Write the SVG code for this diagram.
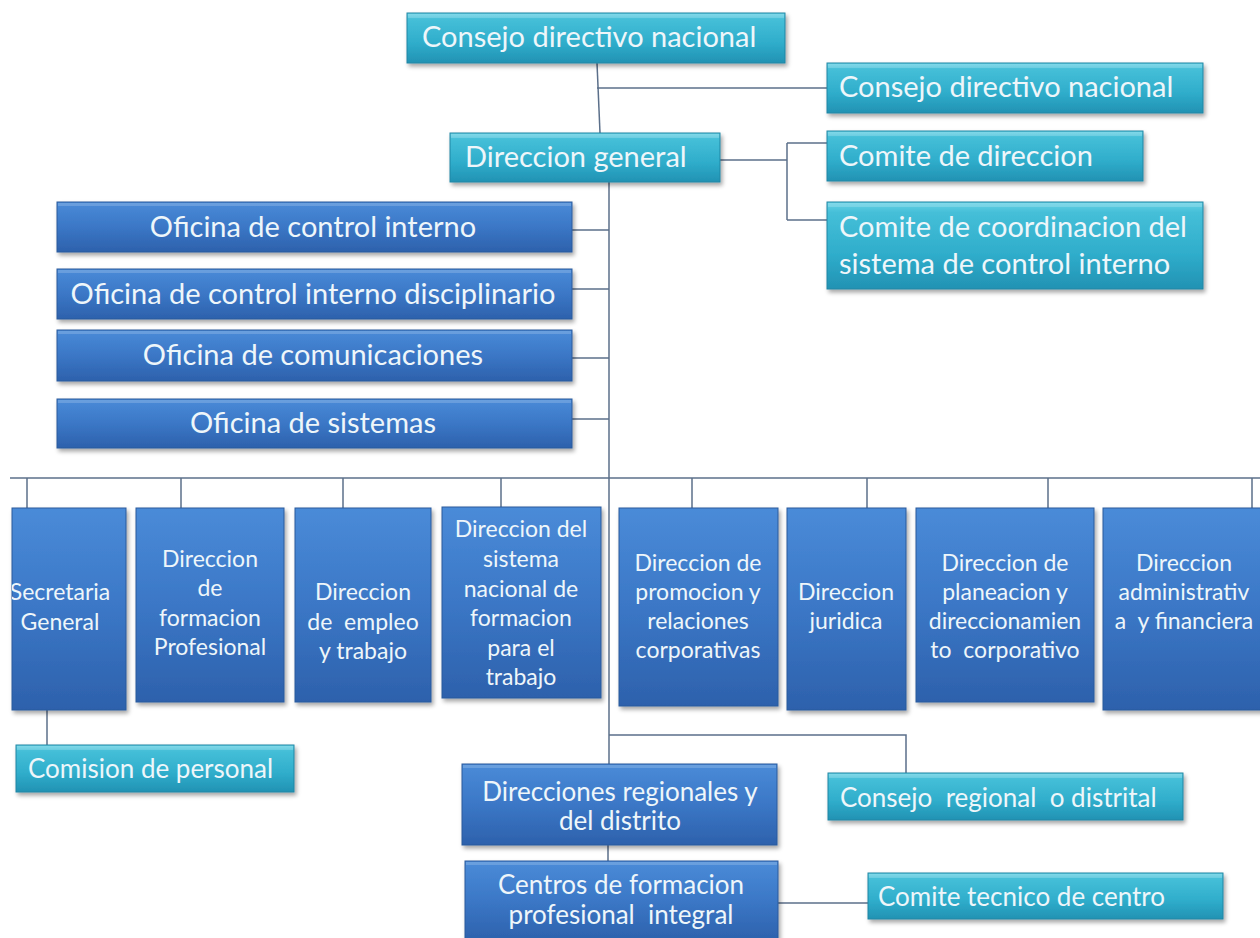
<svg xmlns="http://www.w3.org/2000/svg" width="1260" height="938" viewBox="0 0 1260 938">
<defs>
<linearGradient id="gBlue" x1="0" y1="0" x2="0" y2="1">
<stop offset="0" stop-color="#4a8bd8"/>
<stop offset="0.5" stop-color="#3b77c6"/>
<stop offset="1" stop-color="#2d61ac"/>
</linearGradient>
<linearGradient id="gCyan" x1="0" y1="0" x2="0" y2="1">
<stop offset="0" stop-color="#6ad3e6"/>
<stop offset="0.12" stop-color="#45bfd8"/>
<stop offset="0.6" stop-color="#2fadcb"/>
<stop offset="1" stop-color="#2292b3"/>
</linearGradient>
<filter id="sh" x="-5%" y="-5%" width="115%" height="125%">
<feDropShadow dx="2" dy="3" stdDeviation="2" flood-color="#000" flood-opacity="0.35"/>
</filter>
<clipPath id="clipSec"><rect x="12" y="500" width="120" height="220"/></clipPath>
</defs>
<style>
.blue{fill:url(#gBlue);stroke:#2a5a9c;stroke-width:1;filter:url(#sh)}
.cyan{fill:url(#gCyan);stroke:#1f86a4;stroke-width:1;filter:url(#sh)}
.hl{fill:#ffffff;opacity:0.18}
text{font-family:Lato,"Open Sans","Liberation Sans",sans-serif;fill:#eef6fa;white-space:pre}
.big{font-size:29px}
.mid{font-size:26px}
.col{font-size:23px;text-anchor:middle}
.c{text-anchor:middle}
.conn line,.conn polyline{stroke:#5b6f8a;stroke-width:1.5;fill:none}
</style>
<rect width="1260" height="938" fill="#ffffff"/>
<g class="conn" id="connectors">
<line x1="597" y1="63" x2="600" y2="133"/>
<line x1="597" y1="88" x2="827" y2="88"/>
<line x1="720" y1="160" x2="787" y2="160"/>
<line x1="787" y1="143" x2="787" y2="220"/>
<line x1="787" y1="143" x2="827" y2="143"/>
<line x1="787" y1="220" x2="827" y2="220"/>
<line x1="609" y1="182" x2="609" y2="764"/>
<line x1="572" y1="230" x2="609" y2="230"/>
<line x1="572" y1="289" x2="609" y2="289"/>
<line x1="572" y1="358" x2="609" y2="358"/>
<line x1="572" y1="419" x2="609" y2="419"/>
<line x1="10" y1="478" x2="1260" y2="478"/>
<line x1="27" y1="478" x2="27" y2="508"/>
<line x1="181" y1="478" x2="181" y2="508"/>
<line x1="343" y1="478" x2="343" y2="508"/>
<line x1="501" y1="478" x2="501" y2="508"/>
<line x1="692" y1="478" x2="692" y2="508"/>
<line x1="867" y1="478" x2="867" y2="508"/>
<line x1="1048" y1="478" x2="1048" y2="508"/>
<line x1="1252" y1="478" x2="1252" y2="508"/>
<line x1="47" y1="710" x2="47" y2="745"/>
<polyline points="609,735 906,735 906,773"/>
<line x1="608" y1="845" x2="608" y2="861"/>
<line x1="778" y1="903" x2="868" y2="903"/>
</g>

<g id="n_consejo_top"><rect class="cyan" x="407" y="13" width="378" height="50"/><rect class="hl" x="408" y="14" width="376" height="4"/><text class="big" x="422" y="47">Consejo directivo nacional</text></g>
<g id="n_consejo_right"><rect class="cyan" x="827" y="63" width="376" height="50"/><rect class="hl" x="828" y="64" width="374" height="4"/><text class="big" x="839" y="97">Consejo directivo nacional</text></g>
<g id="n_direccion_general"><rect class="cyan" x="450" y="133" width="270" height="49"/><rect class="hl" x="451" y="134" width="268" height="4"/><text class="big" x="465" y="167">Direccion general</text></g>
<g id="n_comite_direccion"><rect class="cyan" x="827" y="131" width="316" height="50"/><rect class="hl" x="828" y="132" width="314" height="4"/><text class="big" x="839" y="166">Comite de direccion</text></g>
<g id="n_comite_coord"><rect class="cyan" x="827" y="202" width="376" height="87"/><rect class="hl" x="828" y="203" width="374" height="4"/><text class="big" x="839" y="237">Comite de coordinacion del</text><text class="big" x="839" y="274">sistema de control interno</text></g>

<g id="n_of_control"><rect class="blue" x="57" y="202" width="515" height="50"/><rect class="hl" x="58" y="203" width="513" height="3"/><text class="big c" x="313" y="237">Oficina de control interno</text></g>
<g id="n_of_disc"><rect class="blue" x="57" y="269" width="515" height="50"/><rect class="hl" x="58" y="270" width="513" height="3"/><text class="big c" x="313" y="304">Oficina de control interno disciplinario</text></g>
<g id="n_of_com"><rect class="blue" x="57" y="330" width="515" height="51"/><rect class="hl" x="58" y="331" width="513" height="3"/><text class="big c" x="313" y="365">Oficina de comunicaciones</text></g>
<g id="n_of_sis"><rect class="blue" x="57" y="399" width="515" height="49"/><rect class="hl" x="58" y="400" width="513" height="3"/><text class="big c" x="313" y="433">Oficina de sistemas</text></g>

<g id="n_secretaria"><rect class="blue" x="12" y="508" width="114" height="202"/><g clip-path="url(#clipSec)"><text class="col" x="60" y="600">Secretaria</text><text class="col" x="60" y="630">General</text></g></g>
<g id="n_formacion"><rect class="blue" x="136" y="508" width="148" height="194"/><text class="col" x="210" y="567">Direccion</text><text class="col" x="210" y="596">de</text><text class="col" x="210" y="626">formacion</text><text class="col" x="210" y="655">Profesional</text></g>
<g id="n_empleo"><rect class="blue" x="295" y="508" width="136" height="194"/><text class="col" x="363" y="600">Direccion</text><text class="col" x="363" y="630">de  empleo</text><text class="col" x="363" y="659">y trabajo</text></g>
<g id="n_sistema"><rect class="blue" x="442" y="507" width="159" height="191"/><text class="col" x="521" y="537">Direccion del</text><text class="col" x="521" y="567">sistema</text><text class="col" x="521" y="597">nacional de</text><text class="col" x="521" y="626">formacion</text><text class="col" x="521" y="656">para el</text><text class="col" x="521" y="685">trabajo</text></g>
<g id="n_promocion"><rect class="blue" x="619" y="508" width="159" height="198"/><text class="col" x="698" y="571">Direccion de</text><text class="col" x="698" y="600">promocion y</text><text class="col" x="698" y="629">relaciones</text><text class="col" x="698" y="658">corporativas</text></g>
<g id="n_juridica"><rect class="blue" x="787" y="508" width="119" height="202"/><text class="col" x="846" y="600">Direccion</text><text class="col" x="846" y="629">juridica</text></g>
<g id="n_planeacion"><rect class="blue" x="916" y="508" width="178" height="194"/><text class="col" x="1005" y="571">Direccion de</text><text class="col" x="1005" y="600">planeacion y</text><text class="col" x="1005" y="629">direccionamien</text><text class="col" x="1005" y="658">to  corporativo</text></g>
<g id="n_administrativa"><rect class="blue" x="1103" y="508" width="170" height="202"/><text class="col" x="1184" y="571">Direccion</text><text class="col" x="1184" y="600">administrativ</text><text class="col" x="1184" y="629">a  y financiera</text></g>

<g id="n_comision"><rect class="cyan" x="16" y="745" width="278" height="47"/><rect class="hl" x="17" y="746" width="276" height="4"/><text class="mid" x="28" y="778">Comision de personal</text></g>
<g id="n_regionales"><rect class="blue" x="462" y="764" width="315" height="81"/><rect class="hl" x="463" y="765" width="313" height="3"/><text class="mid c" x="620" y="801">Direcciones regionales y</text><text class="mid c" x="620" y="830">del distrito</text></g>
<g id="n_consejo_regional"><rect class="cyan" x="828" y="773" width="355" height="47"/><rect class="hl" x="829" y="774" width="353" height="4"/><text class="mid" x="840" y="807">Consejo  regional  o distrital</text></g>
<g id="n_centros"><rect class="blue" x="465" y="861" width="313" height="80"/><rect class="hl" x="466" y="862" width="311" height="3"/><text class="mid c" x="621" y="894">Centros de formacion</text><text class="mid c" x="621" y="924">profesional  integral</text></g>
<g id="n_comite_tecnico"><rect class="cyan" x="868" y="873" width="355" height="46"/><rect class="hl" x="869" y="874" width="353" height="4"/><text class="mid" x="878" y="906">Comite tecnico de centro</text></g>
</svg>
